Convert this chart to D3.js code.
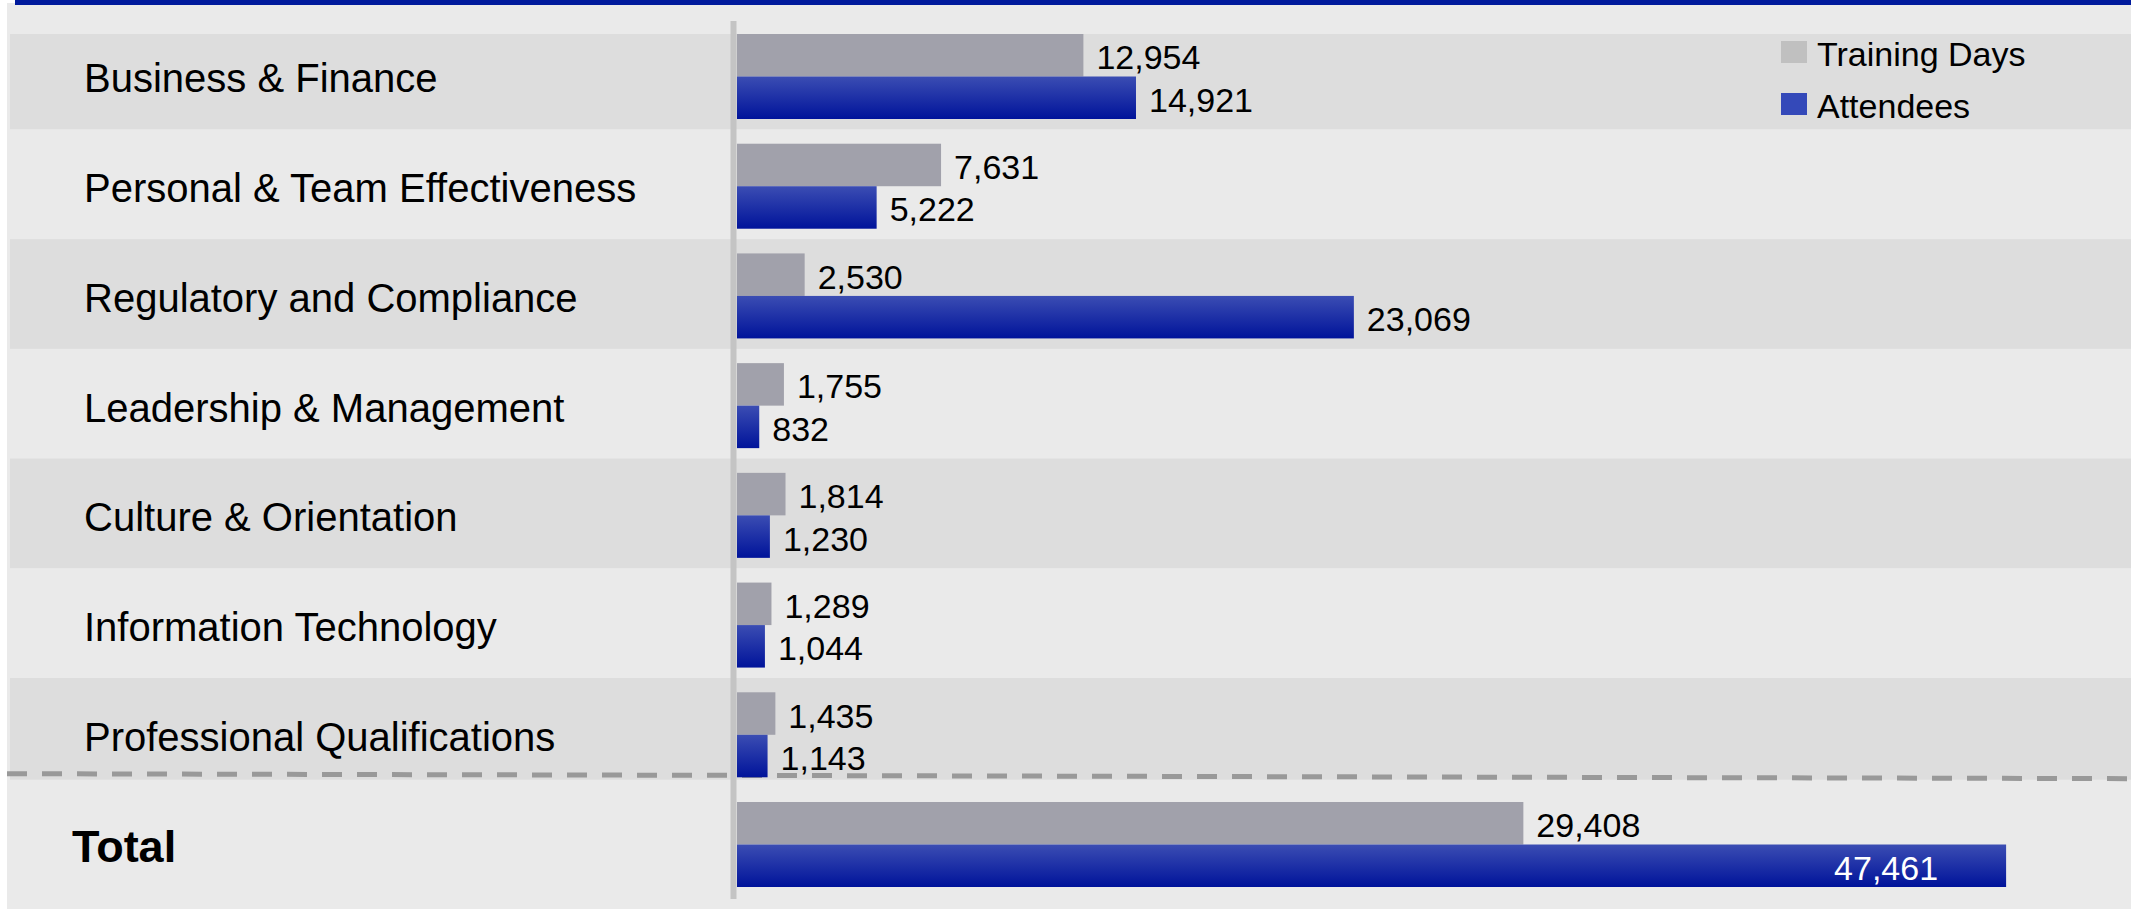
<!DOCTYPE html>
<html>
<head>
<meta charset="utf-8">
<script src="https://cdn.jsdelivr.net/npm/d3@7"></script>
<style>
  html, body { margin: 0; padding: 0; background: #ffffff; }
  svg { display: block; font-family: "Liberation Sans", Arial, sans-serif; }
</style>
</head>
<body>
<div id="chart"></div>
<script>
// categories, top to bottom (last one is the total row)
const categories = [
  "Business & Finance",
  "Personal & Team Effectiveness",
  "Regulatory and Compliance",
  "Leadership & Management",
  "Culture & Orientation",
  "Information Technology",
  "Professional Qualifications",
  "Total"
];
const trainingDays = [12954, 7631, 2530, 1755, 1814, 1289, 1435, 29408];
const attendees = [14921, 5222, 23069, 832, 1230, 1044, 1143, 47461];
const seriesNames = ["Training Days", "Attendees"];

const width = 2131, height = 909;

const svg = d3.select("#chart").append("svg")
  .attr("width", width)
  .attr("height", height);

// gradient for the blue bars
const defs = svg.append("defs");
const grad = defs.append("linearGradient")
  .attr("id", "blueGrad")
  .attr("x1", 0).attr("y1", 0).attr("x2", 0).attr("y2", 1);
grad.append("stop").attr("offset", "0%").attr("stop-color", "#3b4db3");
grad.append("stop").attr("offset", "100%").attr("stop-color", "#00139a");

// scales
const x = d3.scaleLinear()
  .domain([0, 50000])
  .range([737, 2074]);

const y = d3.scaleBand()
  .domain(categories)
  .range([34, 887])
  .paddingInner(0.2253)
  .paddingOuter(0);

const sub = d3.scaleBand()
  .domain(seriesNames)
  .range([0, y.bandwidth()]);

const step = y.step();

// page background
svg.append("rect")
  .attr("x", 7).attr("y", 3)
  .attr("width", width - 7).attr("height", height - 3)
  .attr("fill", "#eaeaea");

// top rule
svg.append("rect")
  .attr("x", 15).attr("y", 0)
  .attr("width", width - 15).attr("height", 5)
  .attr("fill", "#001a9c");

// alternating row bands
const rowTop = (c, i) => i === 0 ? y(c) : y(c) - step * 0.13;
const sepY = y("Total") - step * 0.24;
const rows = categories.slice(0, categories.length - 1);
svg.append("g")
  .selectAll("rect")
  .data(rows)
  .join("rect")
  .attr("x", 10)
  .attr("y", (c, i) => rowTop(c, i))
  .attr("width", width - 10)
  .attr("height", (c, i) => {
    const next = i + 1 < rows.length ? rowTop(rows[i + 1], i + 1) : sepY + 4;
    return next - rowTop(c, i);
  })
  .attr("fill", (c, i) => i % 2 === 0 ? "#dddddd" : "#eaeaea");

// dashed separator before the total
svg.append("line")
  .attr("x1", 7).attr("x2", width)
  .attr("y1", sepY - 2).attr("y2", sepY + 3)
  .attr("stroke", "#999999")
  .attr("stroke-width", 5)
  .attr("stroke-dasharray", "20,15");

// bars
const rowsData = categories.map((c, i) => ({
  cat: c,
  values: [
    { key: "Training Days", value: trainingDays[i] },
    { key: "Attendees", value: attendees[i] }
  ]
}));

const groups = svg.append("g")
  .selectAll("g")
  .data(rowsData)
  .join("g")
  .attr("transform", d => "translate(0," + y(d.cat) + ")");

groups.selectAll("rect")
  .data(d => d.values)
  .join("rect")
  .attr("x", x(0))
  .attr("y", d => sub(d.key))
  .attr("width", d => x(d.value) - x(0))
  .attr("height", sub.bandwidth())
  .attr("fill", d => d.key === "Attendees" ? "url(#blueGrad)" : "#a1a1ab");

// value labels
const fmt = d3.format(",");
groups.each(function(row) {
  const isTotal = row.cat === "Total";
  d3.select(this).selectAll("text.val")
    .data(row.values)
    .join("text")
    .attr("class", "val")
    .attr("font-size", 34)
    .attr("dominant-baseline", "central")
    .attr("y", d => sub(d.key) + sub.bandwidth() / 2 + 2)
    .each(function(d) {
      const t = d3.select(this);
      if (isTotal && d.key === "Attendees") {
        t.attr("x", x(d.value) - 68).attr("text-anchor", "end").attr("fill", "#ffffff");
      } else {
        t.attr("x", x(d.value) + 13).attr("text-anchor", "start").attr("fill", "#000000");
      }
    })
    .text(d => fmt(d.value));
});

// category labels
svg.append("g")
  .selectAll("text")
  .data(categories)
  .join("text")
  .attr("x", c => c === "Total" ? 72 : 84)
  .attr("y", c => y(c) + y.bandwidth() / 2 + 2)
  .attr("dominant-baseline", "central")
  .attr("font-size", c => c === "Total" ? 45 : 40)
  .attr("font-weight", c => c === "Total" ? "bold" : "normal")
  .attr("fill", "#000000")
  .text(c => c);

// vertical baseline
svg.append("line")
  .attr("x1", x(0) - 3.5).attr("x2", x(0) - 3.5)
  .attr("y1", 21).attr("y2", 899)
  .attr("stroke", "#c4c4c4")
  .attr("stroke-width", 6);

// legend
const legendColors = ["#c0c0c0", "#3449b9"];
const legend = svg.append("g")
  .selectAll("g")
  .data(seriesNames)
  .join("g")
  .attr("transform", (d, i) => "translate(1781," + (41 + i * 52) + ")");
legend.append("rect")
  .attr("width", 26).attr("height", 22)
  .attr("fill", (d, i) => legendColors[i]);
legend.append("text")
  .attr("x", 36).attr("y", 13)
  .attr("dominant-baseline", "central")
  .attr("font-size", 34)
  .attr("fill", "#000000")
  .text(d => d);
</script>
</body>
</html>
